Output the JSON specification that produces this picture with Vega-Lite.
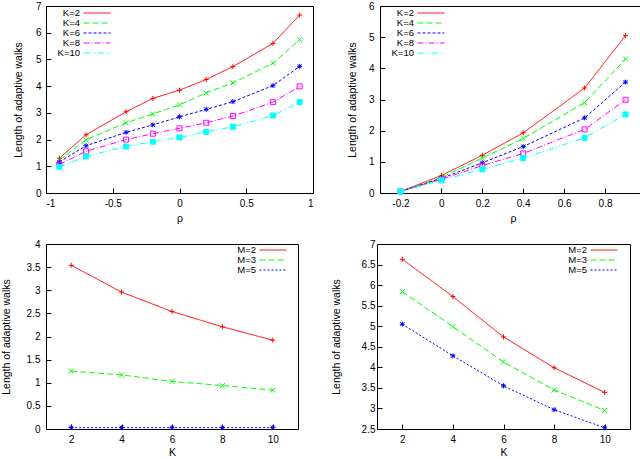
{
  "$schema": "https://vega.github.io/schema/vega-lite/v6.json",
  "padding": {"left": 0, "top": 0, "right": 1, "bottom": 0},
  "background": "white",
  "align": "none",
  "spacing": 14,
  "datasets": {
    "p1": [
      {"rho": -0.9, "K": "K=2", "L": 1.30}, {"rho": -0.7, "K": "K=2", "L": 2.18}, {"rho": -0.4, "K": "K=2", "L": 3.04},
      {"rho": -0.2, "K": "K=2", "L": 3.54}, {"rho": 0, "K": "K=2", "L": 3.85}, {"rho": 0.2, "K": "K=2", "L": 4.25},
      {"rho": 0.4, "K": "K=2", "L": 4.73}, {"rho": 0.7, "K": "K=2", "L": 5.60}, {"rho": 0.9, "K": "K=2", "L": 6.66},
      {"rho": -0.9, "K": "K=4", "L": 1.23}, {"rho": -0.7, "K": "K=4", "L": 1.99}, {"rho": -0.4, "K": "K=4", "L": 2.63},
      {"rho": -0.2, "K": "K=4", "L": 2.96}, {"rho": 0, "K": "K=4", "L": 3.30}, {"rho": 0.2, "K": "K=4", "L": 3.75},
      {"rho": 0.4, "K": "K=4", "L": 4.12}, {"rho": 0.7, "K": "K=4", "L": 4.86}, {"rho": 0.9, "K": "K=4", "L": 5.74},
      {"rho": -0.9, "K": "K=6", "L": 1.16}, {"rho": -0.7, "K": "K=6", "L": 1.77}, {"rho": -0.4, "K": "K=6", "L": 2.27},
      {"rho": -0.2, "K": "K=6", "L": 2.55}, {"rho": 0, "K": "K=6", "L": 2.85}, {"rho": 0.2, "K": "K=6", "L": 3.13},
      {"rho": 0.4, "K": "K=6", "L": 3.42}, {"rho": 0.7, "K": "K=6", "L": 4.02}, {"rho": 0.9, "K": "K=6", "L": 4.74},
      {"rho": -0.9, "K": "K=8", "L": 1.07}, {"rho": -0.7, "K": "K=8", "L": 1.56}, {"rho": -0.4, "K": "K=8", "L": 2.00},
      {"rho": -0.2, "K": "K=8", "L": 2.22}, {"rho": 0, "K": "K=8", "L": 2.42}, {"rho": 0.2, "K": "K=8", "L": 2.63},
      {"rho": 0.4, "K": "K=8", "L": 2.88}, {"rho": 0.7, "K": "K=8", "L": 3.40}, {"rho": 0.9, "K": "K=8", "L": 3.99},
      {"rho": -0.9, "K": "K=10", "L": 0.97}, {"rho": -0.7, "K": "K=10", "L": 1.37}, {"rho": -0.4, "K": "K=10", "L": 1.74},
      {"rho": -0.2, "K": "K=10", "L": 1.92}, {"rho": 0, "K": "K=10", "L": 2.08}, {"rho": 0.2, "K": "K=10", "L": 2.29},
      {"rho": 0.4, "K": "K=10", "L": 2.48}, {"rho": 0.7, "K": "K=10", "L": 2.90}, {"rho": 0.9, "K": "K=10", "L": 3.40}
    ],
    "p2": [
      {"rho": -0.2, "K": "K=2", "L": 0.05}, {"rho": 0, "K": "K=2", "L": 0.56}, {"rho": 0.2, "K": "K=2", "L": 1.21},
      {"rho": 0.4, "K": "K=2", "L": 1.93}, {"rho": 0.7, "K": "K=2", "L": 3.37}, {"rho": 0.9, "K": "K=2", "L": 5.05},
      {"rho": -0.2, "K": "K=4", "L": 0.05}, {"rho": 0, "K": "K=4", "L": 0.50}, {"rho": 0.2, "K": "K=4", "L": 1.12},
      {"rho": 0.4, "K": "K=4", "L": 1.75}, {"rho": 0.7, "K": "K=4", "L": 2.90}, {"rho": 0.9, "K": "K=4", "L": 4.30},
      {"rho": -0.2, "K": "K=6", "L": 0.05}, {"rho": 0, "K": "K=6", "L": 0.47}, {"rho": 0.2, "K": "K=6", "L": 0.97},
      {"rho": 0.4, "K": "K=6", "L": 1.49}, {"rho": 0.7, "K": "K=6", "L": 2.41}, {"rho": 0.9, "K": "K=6", "L": 3.56},
      {"rho": -0.2, "K": "K=8", "L": 0.05}, {"rho": 0, "K": "K=8", "L": 0.44}, {"rho": 0.2, "K": "K=8", "L": 0.88},
      {"rho": 0.4, "K": "K=8", "L": 1.27}, {"rho": 0.7, "K": "K=8", "L": 2.04}, {"rho": 0.9, "K": "K=8", "L": 2.99},
      {"rho": -0.2, "K": "K=10", "L": 0.05}, {"rho": 0, "K": "K=10", "L": 0.41}, {"rho": 0.2, "K": "K=10", "L": 0.76},
      {"rho": 0.4, "K": "K=10", "L": 1.12}, {"rho": 0.7, "K": "K=10", "L": 1.77}, {"rho": 0.9, "K": "K=10", "L": 2.52}
    ],
    "p3": [
      {"K": 2, "M": "M=2", "L": 3.54}, {"K": 4, "M": "M=2", "L": 2.96}, {"K": 6, "M": "M=2", "L": 2.54},
      {"K": 8, "M": "M=2", "L": 2.21}, {"K": 10, "M": "M=2", "L": 1.92},
      {"K": 2, "M": "M=3", "L": 1.25}, {"K": 4, "M": "M=3", "L": 1.17}, {"K": 6, "M": "M=3", "L": 1.03},
      {"K": 8, "M": "M=3", "L": 0.94}, {"K": 10, "M": "M=3", "L": 0.84},
      {"K": 2, "M": "M=5", "L": 0.03}, {"K": 4, "M": "M=5", "L": 0.03}, {"K": 6, "M": "M=5", "L": 0.03},
      {"K": 8, "M": "M=5", "L": 0.03}, {"K": 10, "M": "M=5", "L": 0.03}
    ],
    "p4": [
      {"K": 2, "M": "M=2", "L": 6.63}, {"K": 4, "M": "M=2", "L": 5.72}, {"K": 6, "M": "M=2", "L": 4.74},
      {"K": 8, "M": "M=2", "L": 3.99}, {"K": 10, "M": "M=2", "L": 3.39},
      {"K": 2, "M": "M=3", "L": 5.84}, {"K": 4, "M": "M=3", "L": 4.99}, {"K": 6, "M": "M=3", "L": 4.13},
      {"K": 8, "M": "M=3", "L": 3.45}, {"K": 10, "M": "M=3", "L": 2.95},
      {"K": 2, "M": "M=5", "L": 5.05}, {"K": 4, "M": "M=5", "L": 4.28}, {"K": 6, "M": "M=5", "L": 3.55},
      {"K": 8, "M": "M=5", "L": 2.97}, {"K": 10, "M": "M=5", "L": 2.53}
    ]
  },
  "vconcat": [
    {
      "spacing": 32,
      "hconcat": [
        {
          "width": 267, "height": 187,
          "data": {"name": "p1"},
          "encoding": {
            "x": {"field": "rho", "type": "quantitative", "scale": {"domain": [-1, 1]}, "axis": {"values": [-1, -0.5, 0, 0.5, 1], "title": "ρ"}},
            "y": {"field": "L", "type": "quantitative", "scale": {"domain": [0, 7]}, "axis": {"values": [0, 1, 2, 3, 4, 5, 6, 7], "title": "Length of adaptive walks", "labelPadding": 10, "titlePadding": 12}}
          },
          "layer": [
            {
              "mark": {"type": "line", "strokeWidth": 1},
              "encoding": {
                "color": {"field": "K", "type": "nominal", "scale": {"domain": ["K=2", "K=4", "K=6", "K=8", "K=10"], "range": ["#ff0000", "#00ff00", "#0000ff", "#ff00ff", "#00ffff"]}, "legend": {"orient": "none", "legendX": 10, "legendY": 2}},
                "strokeDash": {"field": "K", "type": "nominal", "scale": {"domain": ["K=2", "K=4", "K=6", "K=8", "K=10"], "range": [[1, 0], [6, 3], [3, 2], [6, 2, 1, 2], [6, 2, 1, 2, 1, 2]]}, "legend": {"orient": "none", "legendX": 10, "legendY": 2}}
              }
            },
            {
              "mark": {"type": "point", "filled": false, "strokeWidth": 1, "size": 25, "opacity": 1},
              "encoding": {
                "color": {"field": "K", "type": "nominal"},
                "shape": {"condition": [{"test": "datum.K === 'K=2'", "value": "M-1,0H1M0,-1V1"}, {"test": "datum.K === 'K=4'", "value": "M-1,-1L1,1M-1,1L1,-1"}, {"test": "datum.K === 'K=6'", "value": "M-1,0H1M0,-1V1M-0.8,-0.8L0.8,0.8M-0.8,0.8L0.8,-0.8"}], "value": "square"},
                "fill": {"condition": {"test": "datum.K === 'K=10'", "value": "#00ffff"}, "value": "transparent"}
              }
            }
          ]
        },
        {
          "width": 266, "height": 187,
          "data": {"name": "p2"},
          "encoding": {
            "x": {"field": "rho", "type": "quantitative", "scale": {"domain": [-0.3, 1]}, "axis": {"values": [-0.2, 0, 0.2, 0.4, 0.6, 0.8, 1], "title": "ρ"}},
            "y": {"field": "L", "type": "quantitative", "scale": {"domain": [0, 6]}, "axis": {"values": [0, 1, 2, 3, 4, 5, 6], "title": "Length of adaptive walks", "labelPadding": 11, "titlePadding": 11}}
          },
          "layer": [
            {
              "mark": {"type": "line", "strokeWidth": 1},
              "encoding": {
                "color": {"field": "K", "type": "nominal", "scale": {"domain": ["K=2", "K=4", "K=6", "K=8", "K=10"], "range": ["#ff0000", "#00ff00", "#0000ff", "#ff00ff", "#00ffff"]}, "legend": {"orient": "none", "legendX": 10, "legendY": 2}},
                "strokeDash": {"field": "K", "type": "nominal", "scale": {"domain": ["K=2", "K=4", "K=6", "K=8", "K=10"], "range": [[1, 0], [6, 3], [3, 2], [6, 2, 1, 2], [6, 2, 1, 2, 1, 2]]}, "legend": {"orient": "none", "legendX": 10, "legendY": 2}}
              }
            },
            {
              "mark": {"type": "point", "filled": false, "strokeWidth": 1, "size": 25, "opacity": 1},
              "encoding": {
                "color": {"field": "K", "type": "nominal"},
                "shape": {"condition": [{"test": "datum.K === 'K=2'", "value": "M-1,0H1M0,-1V1"}, {"test": "datum.K === 'K=4'", "value": "M-1,-1L1,1M-1,1L1,-1"}, {"test": "datum.K === 'K=6'", "value": "M-1,0H1M0,-1V1M-0.8,-0.8L0.8,0.8M-0.8,0.8L0.8,-0.8"}], "value": "square"},
                "fill": {"condition": {"test": "datum.K === 'K=10'", "value": "#00ffff"}, "value": "transparent"}
              }
            }
          ]
        }
      ],
      "resolve": {"scale": {"color": "independent", "strokeDash": "independent"}, "legend": {"color": "independent", "strokeDash": "independent"}}
    },
    {
      "spacing": 31,
      "hconcat": [
        {
          "width": 252, "height": 185,
          "data": {"name": "p3"},
          "encoding": {
            "x": {"field": "K", "type": "quantitative", "scale": {"domain": [1, 11]}, "axis": {"values": [2, 4, 6, 8, 10], "title": "K", "titlePadding": 3}},
            "y": {"field": "L", "type": "quantitative", "scale": {"domain": [0, 4]}, "axis": {"values": [0, 0.5, 1, 1.5, 2, 2.5, 3, 3.5, 4], "title": "Length of adaptive walks", "labelPadding": 11, "titlePadding": 15}}
          },
          "layer": [
            {
              "mark": {"type": "line", "strokeWidth": 1},
              "encoding": {
                "color": {"field": "M", "type": "nominal", "scale": {"domain": ["M=2", "M=3", "M=5"], "range": ["#ff0000", "#00ff00", "#0000ff"]}, "legend": {"orient": "none", "legendX": 186, "legendY": 1}},
                "strokeDash": {"field": "M", "type": "nominal", "scale": {"domain": ["M=2", "M=3", "M=5"], "range": [[1, 0], [6, 3], [2, 2]]}, "legend": {"orient": "none", "legendX": 186, "legendY": 1}}
              }
            },
            {
              "mark": {"type": "point", "filled": false, "strokeWidth": 1, "size": 25, "opacity": 1},
              "encoding": {
                "color": {"field": "M", "type": "nominal"},
                "shape": {"condition": [{"test": "datum.M === 'M=2'", "value": "M-1,0H1M0,-1V1"}, {"test": "datum.M === 'M=3'", "value": "M-1,-1L1,1M-1,1L1,-1"}], "value": "M-1,0H1M0,-1V1M-0.8,-0.8L0.8,0.8M-0.8,0.8L0.8,-0.8"}
              }
            }
          ]
        },
        {
          "width": 253, "height": 185,
          "data": {"name": "p4"},
          "encoding": {
            "x": {"field": "K", "type": "quantitative", "scale": {"domain": [1, 11]}, "axis": {"values": [2, 4, 6, 8, 10], "title": "K", "titlePadding": 3}},
            "y": {"field": "L", "type": "quantitative", "scale": {"domain": [2.5, 7], "zero": false}, "axis": {"values": [2.5, 3, 3.5, 4, 4.5, 5, 5.5, 6, 6.5, 7], "title": "Length of adaptive walks", "labelPadding": 7, "titlePadding": 20}}
          },
          "layer": [
            {
              "mark": {"type": "line", "strokeWidth": 1},
              "encoding": {
                "color": {"field": "M", "type": "nominal", "scale": {"domain": ["M=2", "M=3", "M=5"], "range": ["#ff0000", "#00ff00", "#0000ff"]}, "legend": {"orient": "none", "legendX": 186, "legendY": 1}},
                "strokeDash": {"field": "M", "type": "nominal", "scale": {"domain": ["M=2", "M=3", "M=5"], "range": [[1, 0], [6, 3], [2, 2]]}, "legend": {"orient": "none", "legendX": 186, "legendY": 1}}
              }
            },
            {
              "mark": {"type": "point", "filled": false, "strokeWidth": 1, "size": 25, "opacity": 1},
              "encoding": {
                "color": {"field": "M", "type": "nominal"},
                "shape": {"condition": [{"test": "datum.M === 'M=2'", "value": "M-1,0H1M0,-1V1"}, {"test": "datum.M === 'M=3'", "value": "M-1,-1L1,1M-1,1L1,-1"}], "value": "M-1,0H1M0,-1V1M-0.8,-0.8L0.8,0.8M-0.8,0.8L0.8,-0.8"}
              }
            }
          ]
        }
      ],
      "resolve": {"scale": {"color": "independent", "strokeDash": "independent"}, "legend": {"color": "independent", "strokeDash": "independent"}}
    }
  ],
  "resolve": {"scale": {"color": "independent", "strokeDash": "independent"}, "legend": {"color": "independent", "strokeDash": "independent"}},
  "config": {
    "font": "Liberation Sans",
    "view": {"stroke": "black", "strokeWidth": 1},
    "axis": {
      "domain": false,
      "grid": false,
      "ticks": true,
      "tickColor": "black",
      "tickSize": -5,
      "labelPadding": 10,
      "labelExpr": "'' + datum.value",
      "labelFont": "Liberation Sans",
      "labelFontSize": 10,
      "labelColor": "black",
      "titleFont": "Liberation Sans",
      "titleFontSize": 10.5,
      "titleFontWeight": "normal",
      "titleColor": "black",
      "titlePadding": 5
    },
    "legend": {
      "title": null,
      "padding": 0,
      "symbolType": "M5,0H11",
      "symbolSize": 81,
      "symbolStrokeWidth": 1,
      "symbolOpacity": 1,
      "labelFont": "Liberation Sans",
      "labelFontSize": 9.5,
      "labelColor": "black",
      "labelAlign": "right",
      "labelOffset": 14,
      "rowPadding": 0
    }
  }
}
